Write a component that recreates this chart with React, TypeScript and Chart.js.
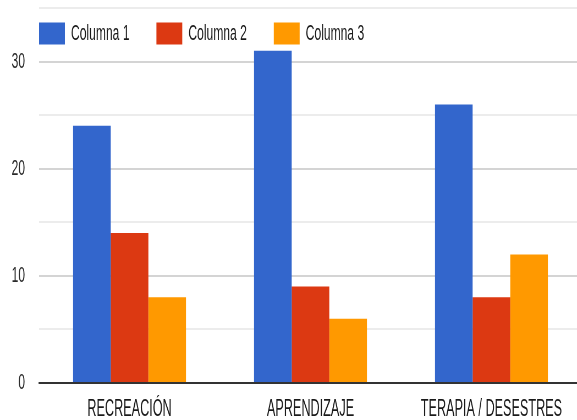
import React, { useEffect, useRef } from "react";
import { Chart, registerables } from "chart.js";

Chart.register(...registerables);

const CATEGORIES = ["RECREACIÓN", "APRENDIZAJE", "TERAPIA / DESESTRES"];
const SERIES_NAMES = ["Columna 1", "Columna 2", "Columna 3"];
const COLUMNA_1 = [24, 31, 26];
const COLUMNA_2 = [14, 9, 8];
const COLUMNA_3 = [8, 6, 12];
const COLORS = ["#3366cc", "#dc3912", "#ff9900"];
const Y_MIN = 0;
const Y_MAX = 35;
const Y_STEP = 5;

const SX = 0.55;
const CANVAS_W = 1060;
const CANVAS_H = 420;
const FONT_FAMILY = '"Liberation Sans", Arial, sans-serif';

const legendPlugin = {
  id: "gLegend",
  afterDraw(chart: any) {
    const ctx = chart.ctx;
    ctx.save();
    ctx.font = `22px ${FONT_FAMILY}`;
    ctx.textBaseline = "middle";
    ctx.textAlign = "left";
    let x = chart.chartArea.left;
    chart.data.datasets.forEach((ds: any) => {
      ctx.fillStyle = ds.backgroundColor;
      ctx.fillRect(x, 22.5, 47, 22);
      ctx.fillStyle = "#1a1a1a";
      ctx.fillText(ds.label, x + 58, 34);
      x += 58 + ctx.measureText(ds.label).width + 49;
    });
    ctx.restore();
  },
};

export default function App() {
  const ref = useRef<HTMLCanvasElement | null>(null);

  useEffect(() => {
    if (!ref.current) return;
    const seriesValues = [COLUMNA_1, COLUMNA_2, COLUMNA_3];
    const chart = new Chart(ref.current, {
      type: "bar",
      data: {
        labels: CATEGORIES,
        datasets: SERIES_NAMES.map((name, i) => ({
          label: name,
          data: seriesValues[i],
          backgroundColor: COLORS[i],
          borderWidth: 0,
          barPercentage: 1,
          categoryPercentage: 0.624,
        })),
      },
      options: {
        responsive: false,
        animation: false,
        devicePixelRatio: 1,
        layout: { padding: { left: 0, right: 2, top: 8, bottom: 0 } },
        plugins: {
          legend: { display: false },
          tooltip: { enabled: false },
          title: { display: false },
        },
        scales: {
          x: {
            grid: { display: false, drawTicks: false },
            border: { display: true, color: "#333333", width: 2 },
            ticks: {
              color: "#1a1a1a",
              font: { family: FONT_FAMILY, size: 23 },
              padding: 13,
              maxRotation: 0,
              autoSkip: false,
            },
            afterFit(scale: any) {
              scale.paddingLeft = 0;
              scale.paddingRight = 0;
              scale.height = 37;
            },
          },
          y: {
            min: Y_MIN,
            max: Y_MAX,
            grid: {
              drawTicks: false,
              color: (c: any) =>
                c.tick && c.tick.value % 10 === 0 ? "#d4d4d4" : "#ececec",
              lineWidth: 2,
            },
            border: { display: false },
            ticks: {
              stepSize: Y_STEP,
              color: "#2a2a2a",
              font: { family: FONT_FAMILY, size: 22 },
              padding: 25.5,
              callback: (v: any) => (Number(v) % 10 === 0 ? String(v) : ""),
            },
            afterFit(scale: any) {
              scale.paddingTop = 0;
              scale.paddingBottom = 0;
              scale.width = 71;
            },
          },
        },
      },
      plugins: [legendPlugin],
    });
    return () => chart.destroy();
  }, []);

  return (
    <div
      style={{
        position: "fixed",
        left: 0,
        top: 0,
        width: 577,
        height: 420,
        overflow: "hidden",
        background: "#ffffff",
      }}
    >
      <canvas
        ref={ref}
        width={CANVAS_W}
        height={CANVAS_H}
        style={{
          display: "block",
          transform: `scaleX(${SX})`,
          transformOrigin: "0 0",
        }}
      />
    </div>
  );
}
